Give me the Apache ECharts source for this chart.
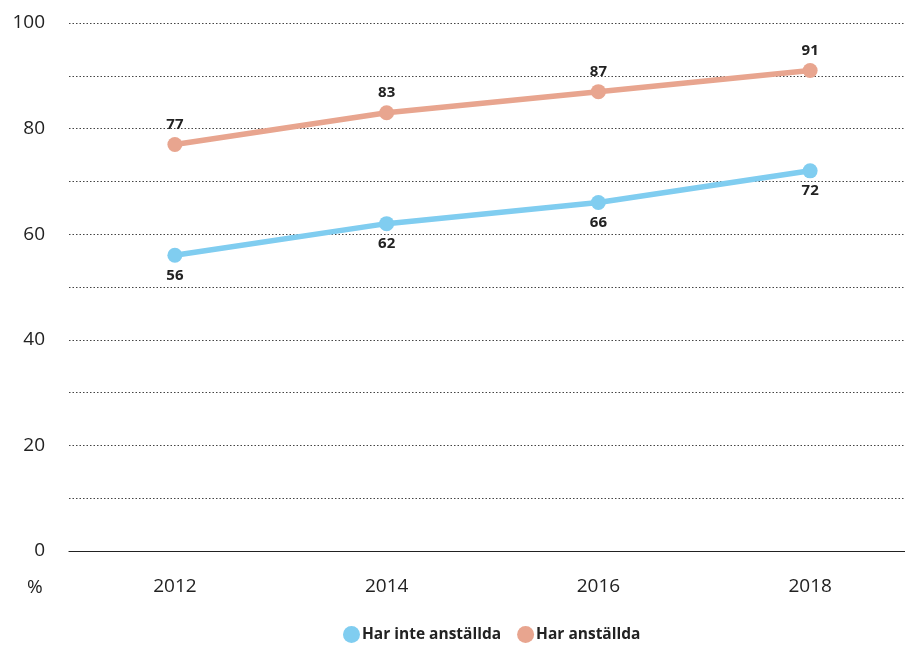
<!DOCTYPE html>
<html><head><meta charset="utf-8">
<script src="https://cdn.jsdelivr.net/npm/echarts@6/dist/echarts.min.js"></script>
<style>html,body{margin:0;padding:0;background:#fff}#c{width:905px;height:646px}</style>
</head><body><div id="c"></div>
<script>
const categories = ['2012', '2014', '2016', '2018'];
const harInteAnstallda = [56, 62, 66, 72];
const harAnstallda = [77, 83, 87, 91];
const seriesNames = ['Har inte anställda', 'Har anställda'];
const yTicks = [0, 20, 40, 60, 80, 100];

const chart = echarts.init(document.getElementById('c'), null, {renderer: 'canvas'});
const font = '"Open Sans", "Noto Sans", sans-serif';
chart.setOption({
  animation: false,
  textStyle: {fontFamily: font},
  grid: {left: 69, width: 847, top: 23, height: 528, outerBoundsMode: 'none'},
  legend: {
    top: 626, left: 343, icon: 'circle', itemWidth: 17, itemHeight: 17, itemGap: 16, padding: 0,
    textStyle: {fontFamily: font, fontSize: 15.5, fontWeight: 'bold', color: '#222', padding: [0, 0, 0, -3]},
    data: seriesNames
  },
  xAxis: {
    type: 'category', data: categories, boundaryGap: true,
    axisLine: {show: true, lineStyle: {color: '#222', width: 1.2}},
    axisTick: {show: false},
    axisLabel: {fontFamily: font, fontSize: 19, color: '#222', margin: 26}
  },
  yAxis: {
    type: 'value', min: 0, max: 100, interval: 10,
    axisLine: {show: false}, axisTick: {show: false},
    axisLabel: {fontFamily: font, fontSize: 19, color: '#222', margin: 24,
      formatter: v => yTicks.includes(v) ? String(v) : ''},
    splitLine: {show: true, lineStyle: {type: [1.5, 2], color: '#444', width: 1}}
  },
  graphic: [{type: 'text', left: 27, top: 578, style: {text: '%', font: '19px ' + font, fill: '#222'}}],
  series: [
    {name: seriesNames[0], type: 'line', data: harInteAnstallda, symbol: 'circle', symbolSize: 15,
      lineStyle: {width: 5.5, color: '#80cdf0'}, itemStyle: {color: '#80cdf0'},
      label: {show: true, position: 'bottom', distance: 5, fontFamily: font, fontSize: 15, fontWeight: 'bold', color: '#222'}},
    {name: seriesNames[1], type: 'line', data: harAnstallda, symbol: 'circle', symbolSize: 15,
      lineStyle: {width: 5.5, color: '#e8a58f'}, itemStyle: {color: '#e8a58f'},
      label: {show: true, position: 'top', distance: 5, fontFamily: font, fontSize: 15, fontWeight: 'bold', color: '#222'}}
  ]
});
</script></body></html>
